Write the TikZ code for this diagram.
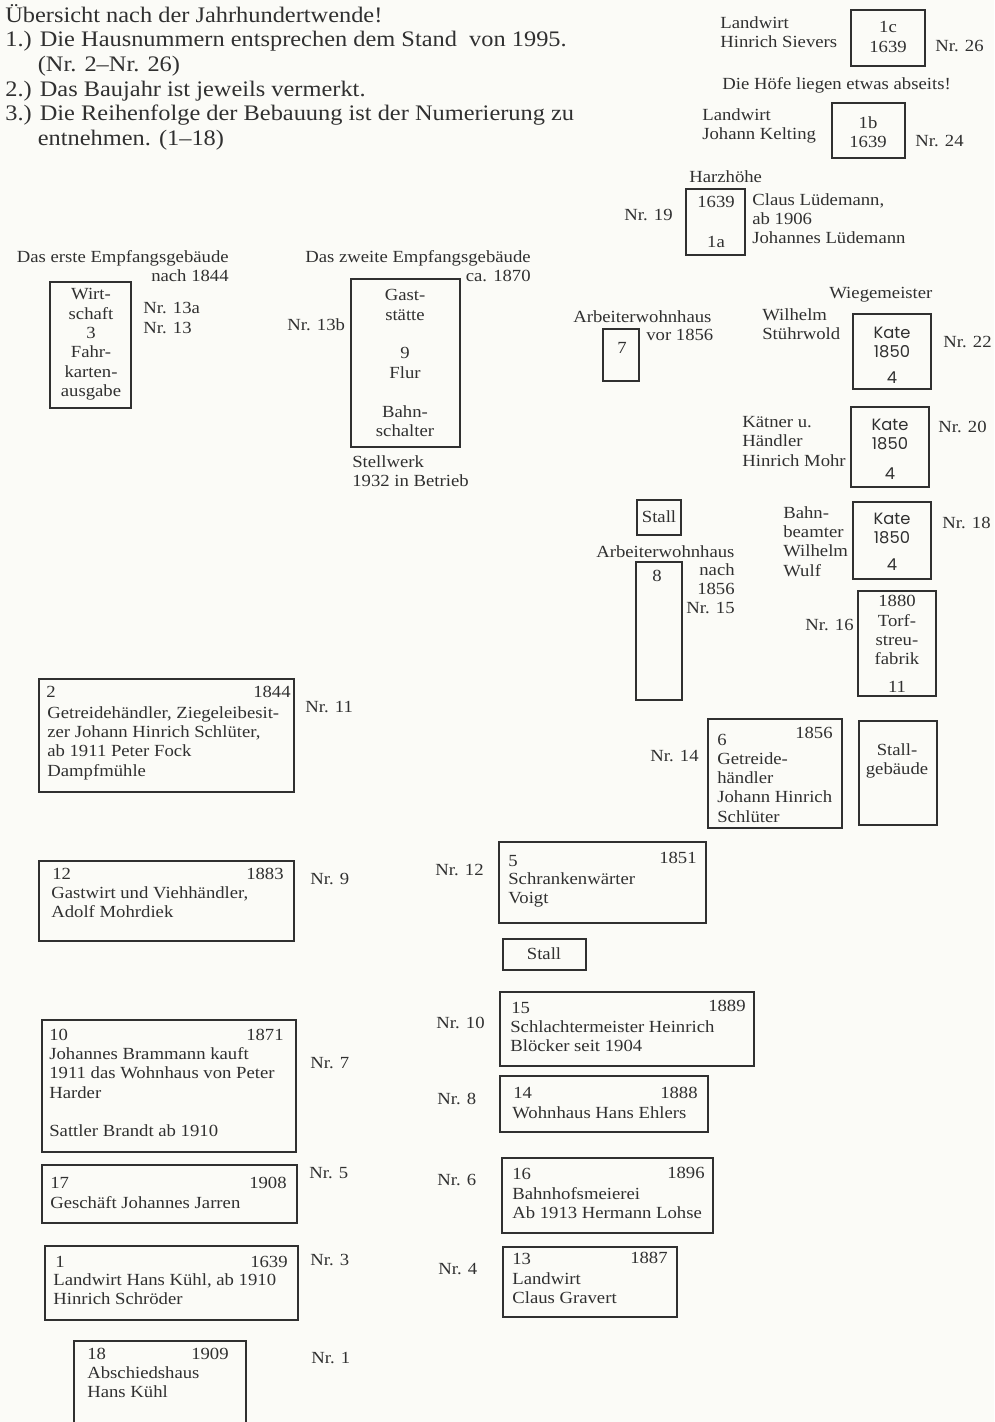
\documentclass[tikz,border=0pt]{standalone}
\usepackage{fontspec}
\setmainfont{Liberation Serif}[FakeStretch=1.1]
\newfontfamily\katefont{Poppins}
\usepackage{tikz}
\definecolor{tinte}{HTML}{303030}
\definecolor{papier}{HTML}{FBFBF7}
\newcommand\kopfschrift{\fontsize{13.3}{14.8}\selectfont}
\newcommand\planschrift{\fontsize{10.2}{11.65}\selectfont}
\newcommand\kateschrift{\katefont\fontsize{9.8}{11.4}\selectfont}

\begin{document}
\begin{tikzpicture}[x=0.6pt, y=-0.6pt,
  haus/.style={draw=tinte, line width=1.2pt},
  txt/.style={inner sep=0pt, text=tinte, font=\planschrift, align=left},
  mitte/.style={txt, align=center},
  kate/.style={mitte, font=\kateschrift}]
% Blatt
\fill [papier] (0,0) rectangle (994,1422);
\useasboundingbox (0,0) rectangle (994,1422);
% Kopf
\node [txt, font=\kopfschrift, anchor=north west] (kopf) at (5,4)
  {Übersicht nach der Jahrhundertwende!\\
   1.) Die Hausnummern entsprechen dem Stand\ \ von 1995.\\
   \hphantom{1.)\ }(Nr. 2--Nr. 26)\\
   2.) Das Baujahr ist jeweils vermerkt.\\
   3.) Die Reihenfolge der Bebauung ist der Numerierung zu\\
   \hphantom{3.)\ }entnehmen. (1--18)};
% Höfe oben rechts
\draw [haus] (851,10) rectangle (925,66);
\node [mitte] (hof1c) at (888,37) {1c\\1639};
\node [txt, anchor=north west] (sievers) at (720,16) {Landwirt\\Hinrich Sievers};
\node [txt, anchor=west] (nr26) at (935,46) {Nr. 26};
\node [txt, anchor=west] (abseits) at (722,85) {Die Höfe liegen etwas abseits!};
\draw [haus] (832,103) rectangle (905,158);
\node [mitte] (hof1b) at (868,132) {1b\\1639};
\node [txt, anchor=north west] (kelting) at (702,108) {Landwirt\\Johann Kelting};
\node [txt, anchor=west] (nr24) at (915,141) {Nr. 24};
\node [txt, anchor=west] (harz) at (689,177) {Harzhöhe};
\draw [haus] (686,189) rectangle (745,255);
\node [mitte] (hof1a) at (716,202) {1639};
\node [mitte] (hof1aa) at (716,242) {1a};
\node [txt, anchor=north west] (luedemann) at (752,193)
  {Claus Lüdemann,\\ab 1906\\Johannes Lüdemann};
\node [txt, anchor=west] (nr19) at (624,215) {Nr. 19};
% Empfangsgebäude
\node [txt, align=right, anchor=north east] (erstes) at (229,250)
  {Das erste Empfangsgebäude\\nach 1844};
\draw [haus] (50,282) rectangle (131,408);
\node [mitte, anchor=north] (wirtschaft) at (91,288)
  {Wirt-\\schaft\\3\\Fahr-\\karten-\\ausgabe};
\node [txt, anchor=north west] (nr13) at (143,302) {Nr. 13a\\Nr. 13};
\node [txt, align=right, anchor=north east] (zweites) at (531,250)
  {Das zweite Empfangsgebäude\\ca. 1870};
\node [txt, anchor=west] (nr13b) at (287,325) {Nr. 13b};
\draw [haus] (351,279) rectangle (460,447);
\node [mitte, anchor=north] (gaststaette) at (405,289)
  {Gast-\\stätte\\\mbox{}\\9\\Flur\\\mbox{}\\Bahn-\\schalter};
\node [txt, anchor=north west] (stellwerk) at (352,455)
  {Stellwerk\\1932 in Betrieb};
% Arbeiterwohnhäuser und Katen
\node [txt, anchor=west] (arbeiter7) at (573,317) {Arbeiterwohnhaus};
\draw [haus] (603,329) rectangle (639,381);
\node [mitte] (haus7) at (622,348) {7};
\node [txt, anchor=west] (vor1856) at (646,335) {vor 1856};
\node [txt, anchor=west] (wiege) at (829,295) {Wiegemeister};
\node [txt, anchor=north west] (stuehrwold) at (762,308) {Wilhelm\\Stührwold};
\draw [haus] (853,314) rectangle (931,389);
\node [kate] (kate22) at (892,342) {Kate\\1850};
\node [kate] (vier22) at (892,378) {4};
\node [txt, anchor=west] (nr22) at (943,342) {Nr. 22};
\draw [haus] (851,407) rectangle (929,487);
\node [kate] (kate20) at (890,434) {Kate\\1850};
\node [kate] (vier20) at (890,474) {4};
\node [txt, anchor=north west] (mohr) at (742,416)
  {Kätner u.\\Händler\\Hinrich Mohr};
\node [txt, anchor=west] (nr20) at (938,427) {Nr. 20};
\draw [haus] (637,500) rectangle (681,535);
\node [mitte] (stall8) at (659,517) {Stall};
\draw [haus] (853,502) rectangle (931,579);
\node [kate] (kate18) at (892,528) {Kate\\1850};
\node [kate] (vier18) at (892,565) {4};
\node [txt, anchor=north west] (wulf) at (783,506)
  {Bahn-\\beamter\\Wilhelm\\Wulf};
\node [txt, anchor=west] (nr18) at (942,523) {Nr. 18};
\node [txt, anchor=west] (arbeiter8) at (596,552) {Arbeiterwohnhaus};
\draw [haus] (636,562) rectangle (682,700);
\node [mitte] (haus8) at (657,576) {8};
\node [txt, align=right, anchor=north east] (nach1856) at (735,563)
  {nach\\1856\\Nr. 15};
\draw [haus] (858,591) rectangle (936,696);
\node [mitte, anchor=north] (torf) at (897,595) {1880\\Torf-\\streu-\\fabrik};
\node [mitte] (haus11) at (897,687) {11};
\node [txt, anchor=west] (nr16) at (805,625) {Nr. 16};
\draw [haus] (708,719) rectangle (842,828);
\node [txt, anchor=west] (haus6) at (717,740) {6};
\node [txt, anchor=east] (jahr6) at (833,733) {1856};
\node [txt, anchor=north west] (schlueter6) at (717,752)
  {Getreide-\\händler\\Johann Hinrich\\Schlüter};
\node [txt, anchor=west] (nr14) at (650,756) {Nr. 14};
\draw [haus] (859,721) rectangle (937,825);
\node [mitte, anchor=north] (stallgeb) at (897,743) {Stall-\\gebäude};
% linke Reihe
\draw [haus] (39,679) rectangle (294,792);
\node [txt, anchor=west] (haus2) at (46,692) {2};
\node [txt, anchor=east] (jahr2) at (291,692) {1844};
\node [txt, anchor=north west] (text2) at (47,706)
  {Getreidehändler, Ziegeleibesit-\\zer Johann Hinrich Schlüter,\\ab 1911 Peter Fock\\Dampfmühle};
\node [txt, anchor=west] (nr11) at (305,707) {Nr. 11};
\draw [haus] (39,861) rectangle (294,941);
\node [txt, anchor=west] (haus12) at (52,874) {12};
\node [txt, anchor=east] (jahr12) at (284,874) {1883};
\node [txt, anchor=north west] (text12) at (51,886)
  {Gastwirt und Viehhändler,\\Adolf Mohrdiek};
\node [txt, anchor=west] (nr9) at (310,879) {Nr. 9};
\draw [haus] (42,1020) rectangle (296,1152);
\node [txt, anchor=west] (haus10) at (49,1035) {10};
\node [txt, anchor=east] (jahr10) at (284,1035) {1871};
\node [txt, anchor=north west] (text10) at (49,1047)
  {Johannes Brammann kauft\\1911 das Wohnhaus von Peter\\Harder\\\mbox{}\\Sattler Brandt ab 1910};
\node [txt, anchor=west] (nr7) at (310,1063) {Nr. 7};
\draw [haus] (42,1165) rectangle (297,1223);
\node [txt, anchor=west] (haus17) at (50,1183) {17};
\node [txt, anchor=east] (jahr17) at (287,1183) {1908};
\node [txt, anchor=west] (text17) at (50,1203) {Geschäft Johannes Jarren};
\node [txt, anchor=west] (nr5) at (309,1173) {Nr. 5};
\draw [haus] (45,1246) rectangle (298,1320);
\node [txt, anchor=west] (haus1) at (55,1262) {1};
\node [txt, anchor=east] (jahr1) at (288,1262) {1639};
\node [txt, anchor=north west] (text1) at (53,1273)
  {Landwirt Hans Kühl, ab 1910\\Hinrich Schröder};
\node [txt, anchor=west] (nr3) at (310,1260) {Nr. 3};
\draw [haus] (74,1422) -- (74,1341) -- (246,1341) -- (246,1422);
\node [txt, anchor=west] (haus18) at (87,1354) {18};
\node [txt, anchor=east] (jahr18) at (229,1354) {1909};
\node [txt, anchor=north west] (text18) at (87,1366) {Abschiedshaus\\Hans Kühl};
\node [txt, anchor=west] (nr1) at (311,1358) {Nr. 1};
% mittlere Reihe
\node [txt, anchor=west] (nr12) at (435,870) {Nr. 12};
\draw [haus] (499,842) rectangle (706,923);
\node [txt, anchor=west] (haus5) at (508,861) {5};
\node [txt, anchor=east] (jahr5) at (697,858) {1851};
\node [txt, anchor=north west] (text5) at (508,872) {Schrankenwärter\\Voigt};
\draw [haus] (503,939) rectangle (586,970);
\node [mitte] (stall5) at (544,954) {Stall};
\node [txt, anchor=west] (nr10) at (436,1023) {Nr. 10};
\draw [haus] (500,992) rectangle (754,1066);
\node [txt, anchor=west] (haus15) at (511,1008) {15};
\node [txt, anchor=east] (jahr15) at (746,1006) {1889};
\node [txt, anchor=north west] (text15) at (510,1020)
  {Schlachtermeister Heinrich\\Blöcker seit 1904};
\node [txt, anchor=west] (nr8) at (437,1099) {Nr. 8};
\draw [haus] (500,1076) rectangle (708,1132);
\node [txt, anchor=west] (haus14) at (513,1093) {14};
\node [txt, anchor=east] (jahr14) at (698,1093) {1888};
\node [txt, anchor=west] (text14) at (512,1113) {Wohnhaus Hans Ehlers};
\node [txt, anchor=west] (nr6) at (437,1180) {Nr. 6};
\draw [haus] (502,1158) rectangle (713,1233);
\node [txt, anchor=west] (haus16) at (512,1174) {16};
\node [txt, anchor=east] (jahr16) at (705,1173) {1896};
\node [txt, anchor=north west] (text16) at (512,1187)
  {Bahnhofsmeierei\\Ab 1913 Hermann Lohse};
\node [txt, anchor=west] (nr4) at (438,1269) {Nr. 4};
\draw [haus] (503,1247) rectangle (677,1317);
\node [txt, anchor=west] (haus13) at (512,1259) {13};
\node [txt, anchor=east] (jahr13) at (668,1258) {1887};
\node [txt, anchor=north west] (text13) at (512,1272) {Landwirt\\Claus Gravert};
\end{tikzpicture}
\end{document}
